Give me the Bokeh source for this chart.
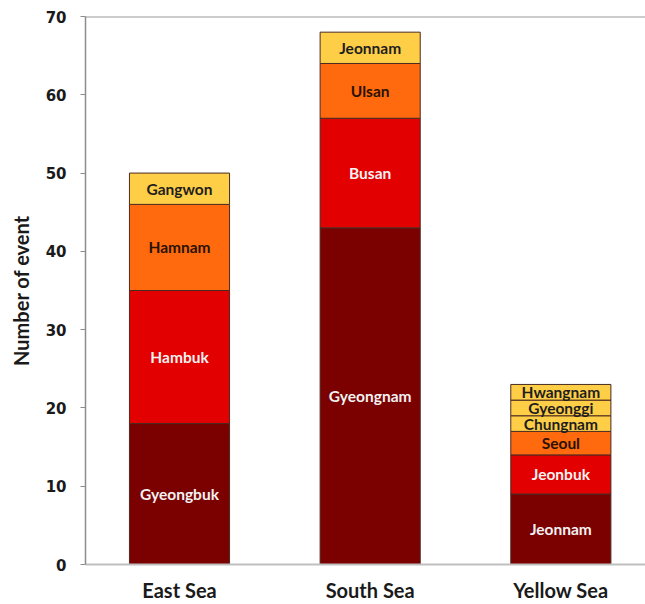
from bokeh.plotting import figure
from bokeh.models import ColumnDataSource, Range1d, FixedTicker, Span
from bokeh.core.properties import value
from bokeh.embed import file_html
from bokeh.resources import INLINE

# ---- data ----
seas = ["East Sea", "South Sea", "Yellow Sea"]
east_regions = ["Gyeongbuk", "Hambuk", "Hamnam", "Gangwon"]
east_counts = [18, 17, 11, 4]
south_regions = ["Gyeongnam", "Busan", "Ulsan", "Jeonnam"]
south_counts = [43, 14, 7, 4]
yellow_regions = ["Jeonnam", "Jeonbuk", "Seoul", "Chungnam", "Gyeonggi", "Hwangnam"]
yellow_counts = [9, 5, 3, 2, 2, 2]
y_ticks = [0, 10, 20, 30, 40, 50, 60, 70]

level_colors = ["#7B0000", "#E20000", "#FF6A0E", "#FFCE47", "#FFCE47", "#FFCE47"]
level_text_colors = ["#F2F2F2", "#F2F2F2", "#2A1200", "#1E1E1E", "#1E1E1E", "#1E1E1E"]

xs, bottoms, tops, mids, names, fills, tcolors = [], [], [], [], [], [], []
for i, (regions, counts) in enumerate([(east_regions, east_counts),
                                       (south_regions, south_counts),
                                       (yellow_regions, yellow_counts)]):
    base = 0
    for lvl, (r, c) in enumerate(zip(regions, counts)):
        xs.append(i + 1)
        bottoms.append(base)
        tops.append(base + c)
        mids.append(base + c / 2)
        names.append(r)
        fills.append(level_colors[lvl])
        tcolors.append(level_text_colors[lvl])
        base += c

src = ColumnDataSource(dict(x=xs, bottom=bottoms, top=tops, mid=mids,
                            name=names, fill=fills, tcol=tcolors))

p = figure(width=645, height=604, output_backend="svg", toolbar_location=None,
           x_range=Range1d(0.507, 3.444), y_range=Range1d(0, 70),
           min_border_left=85, min_border_right=0, min_border_top=16,
           min_border_bottom=39)

p.vbar(x="x", bottom="bottom", top="top", width=0.525, source=src,
       fill_color="fill", line_color="#4A2A20", line_width=1)
p.text(x="x", y="mid", text="name", source=src, text_color="tcol",
       text_align="center", text_baseline="middle",
       text_font=value("Lato"), text_font_style="bold", text_font_size="15.5px")

p.outline_line_color = None
p.grid.visible = False
p.add_layout(Span(location=70, dimension="width", line_color="#999999", line_width=2))

# y axis
p.yaxis.ticker = FixedTicker(ticks=y_ticks)
p.yaxis.axis_line_color = "#8C8C8C"
p.yaxis.axis_line_width = 1.5
p.yaxis.major_tick_line_color = "#8C8C8C"
p.yaxis.major_tick_out = 5
p.yaxis.major_tick_in = 0
p.yaxis.minor_tick_line_color = None
p.yaxis.major_label_text_font = "DejaVu Sans"
p.yaxis.major_label_text_font_style = "bold"
p.yaxis.major_label_text_font_size = "15px"
p.yaxis.major_label_text_color = "#1A1A1A"
p.yaxis.major_label_standoff = 14
p.yaxis.axis_label = "Number of event"
p.yaxis.axis_label_text_font = "Lato"
p.yaxis.axis_label_text_font_style = "bold"
p.yaxis.axis_label_text_font_size = "20px"
p.yaxis.axis_label_text_color = "#1A1A1A"
p.yaxis.axis_label_standoff = 10

# x axis
p.xaxis.ticker = FixedTicker(ticks=[1, 2, 3])
p.xaxis.major_label_overrides = {1: seas[0], 2: seas[1], 3: seas[2]}
p.xaxis.axis_line_color = "#BFBFBF"
p.xaxis.axis_line_width = 2
p.xaxis.major_tick_line_color = None
p.xaxis.minor_tick_line_color = None
p.xaxis.major_label_text_font = "Lato"
p.xaxis.major_label_text_font_style = "bold"
p.xaxis.major_label_text_font_size = "20px"
p.xaxis.major_label_text_color = "#1A1A1A"
p.xaxis.major_label_standoff = 7

open("out.html", "w").write(file_html(p, INLINE))
